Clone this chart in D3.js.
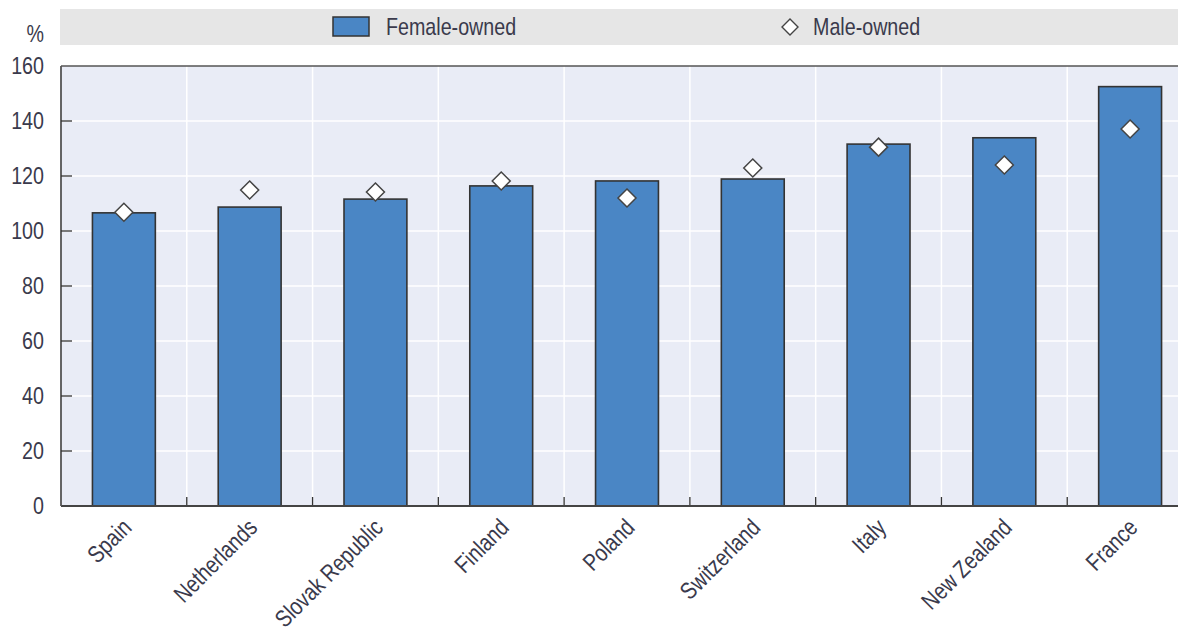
<!DOCTYPE html>
<html>
<head>
<meta charset="utf-8">
<script src="https://cdn.jsdelivr.net/npm/d3@7"></script>
<style>
  html, body { margin: 0; padding: 0; background: #fff; }
  svg { display: block; }
  text { font-family: "Liberation Sans", Arial, sans-serif; fill: #3a3a4c; font-size: 24px; }
</style>
</head>
<body>
<svg id="chart" width="1178" height="632"></svg>
<script>
// Ratio values, %
const countries = ["Spain", "Netherlands", "Slovak Republic", "Finland", "Poland", "Switzerland", "Italy", "New Zealand", "France"];
const femaleOwned = [106.6, 108.7, 111.6, 116.4, 118.2, 118.9, 131.6, 133.9, 152.5];
const maleOwned = [106.8, 114.9, 114.2, 118.2, 112.0, 122.9, 130.5, 124.0, 137.1];
const yTicks = [0, 20, 40, 60, 80, 100, 120, 140, 160];
const legendLabels = ["Female-owned", "Male-owned"];

const NARROW = 0.82; // horizontal squeeze giving a condensed face

const svg = d3.select("#chart");
const margin = { left: 61, top: 66, bottom: 506, right: 1193 };

const x = d3.scaleBand().domain(countries).range([margin.left, margin.right]);
const y = d3.scaleLinear().domain([0, 160]).range([margin.bottom, margin.top]);

// square diamond path of half-diagonal r
const diamond = r => `M0,${-r}L${r},0L0,${r}L${-r},0Z`;

// condensed text helper
function narrowText(parent, tx, ty, str, anchor, rotate) {
  const g = parent.append("g")
    .attr("transform", `translate(${tx},${ty})` + (rotate ? ` rotate(${rotate})` : "") + ` scale(${NARROW},1)`);
  g.append("text").attr("text-anchor", anchor || "start").text(str);
  return g;
}

// Legend strip
svg.append("rect").attr("x", 60).attr("y", 9).attr("width", 1118).attr("height", 36).attr("fill", "#e6e6e6");
svg.append("rect").attr("x", 333).attr("y", 17).attr("width", 36).attr("height", 19)
  .attr("fill", "#4a86c5").attr("stroke", "#333").attr("stroke-width", 1.5);
narrowText(svg, 386, 35, legendLabels[0]);
svg.append("path").attr("d", diamond(8))
  .attr("transform", "translate(790,27)")
  .attr("fill", "#fff").attr("stroke", "#444").attr("stroke-width", 1.4);
narrowText(svg, 813, 35, legendLabels[1]);

// Plot background
svg.append("rect").attr("x", margin.left).attr("y", margin.top)
  .attr("width", margin.right - margin.left).attr("height", margin.bottom - margin.top)
  .attr("fill", "#e9ecf6");

// Horizontal grid
svg.append("g").selectAll("line").data(yTicks.filter(d => d > 0 && d < 160)).join("line")
  .attr("x1", margin.left).attr("x2", margin.right)
  .attr("y1", d => y(d)).attr("y2", d => y(d))
  .attr("stroke", "#fff").attr("stroke-width", 1.5);

// Vertical grid at category boundaries
const bounds = countries.slice(1).map(c => x(c));
svg.append("g").selectAll("line").data(bounds).join("line")
  .attr("x1", d => d).attr("x2", d => d)
  .attr("y1", margin.top).attr("y2", margin.bottom)
  .attr("stroke", "#fff").attr("stroke-width", 1.5);

// Bottom ticks at boundaries
svg.append("g").selectAll("line").data(bounds).join("line")
  .attr("x1", d => d).attr("x2", d => d)
  .attr("y1", margin.bottom).attr("y2", margin.bottom - 9)
  .attr("stroke", "#333").attr("stroke-width", 1.3);

// Bars
const barW = x.bandwidth() * 0.5;
svg.append("g").selectAll("rect").data(countries).join("rect")
  .attr("x", (d) => x(d) + (x.bandwidth() - barW) / 2)
  .attr("y", (d, i) => y(femaleOwned[i]))
  .attr("width", barW)
  .attr("height", (d, i) => y(0) - y(femaleOwned[i]))
  .attr("fill", "#4a86c5").attr("stroke", "#333").attr("stroke-width", 1.6);

// Male-owned markers
svg.append("g").selectAll("path").data(countries).join("path")
  .attr("d", diamond(9))
  .attr("transform", (d, i) => `translate(${x(d) + x.bandwidth() / 2},${y(maleOwned[i])})`)
  .attr("fill", "#fff").attr("stroke", "#444").attr("stroke-width", 1.5);

// Plot frame: left, top, bottom
svg.append("line").attr("x1", margin.left).attr("x2", margin.right).attr("y1", margin.top).attr("y2", margin.top)
  .attr("stroke", "#555").attr("stroke-width", 1.5);
svg.append("line").attr("x1", margin.left).attr("x2", margin.right).attr("y1", margin.bottom).attr("y2", margin.bottom)
  .attr("stroke", "#444").attr("stroke-width", 1.8);
svg.append("line").attr("x1", margin.left).attr("x2", margin.left).attr("y1", margin.top).attr("y2", margin.bottom)
  .attr("stroke", "#555").attr("stroke-width", 1.8);

// Y axis ticks and labels
const yAxis = svg.append("g");
yAxis.selectAll("line").data(yTicks.filter(d => d > 0 && d < 160)).join("line")
  .attr("x1", margin.left).attr("x2", margin.left + 11)
  .attr("y1", d => y(d)).attr("y2", d => y(d))
  .attr("stroke", "#333").attr("stroke-width", 1.3);
yTicks.forEach(t => narrowText(yAxis, 44, y(t) + 8, t, "end"));
narrowText(svg, 44, 42, "%", "end");

// Category labels
const xLabels = svg.append("g");
countries.forEach(c => narrowText(xLabels, x(c) + x.bandwidth() / 2 + 9, 529, c, "end", -45));
</script>
</body>
</html>
